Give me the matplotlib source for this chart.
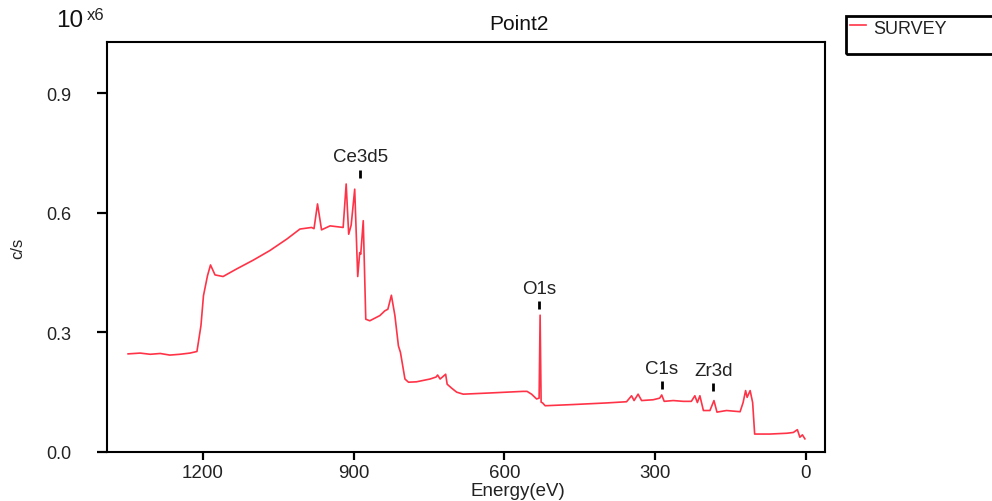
import matplotlib
matplotlib.use("Agg")
import matplotlib.pyplot as plt
from matplotlib.patches import Rectangle
from matplotlib.lines import Line2D

plt.rcParams['font.family'] = ['Liberation Sans', 'DejaVu Sans']

# Binding energy (eV) and intensity (c/s, in units of 1e6)
energy = [1349, 1325, 1305, 1285, 1266, 1246, 1226, 1212, 1204, 1199, 1191, 1185,
          1176, 1160, 1133, 1100, 1067, 1033, 1007, 984, 979, 972, 964, 947,
          921, 915, 910, 905, 898, 892, 888, 886, 881, 876, 868, 848, 838, 832,
          825, 818, 811, 807, 798, 791, 775, 748, 736, 733, 728, 717, 714, 705,
          695, 682, 629, 563, 555, 546, 536, 531, 529, 527, 524, 519, 463, 397,
          357, 347, 342, 334, 327, 304, 291, 287, 282, 264, 244, 228, 221, 216,
          211, 204, 191, 183, 177, 158, 131, 125, 120, 117, 111, 106, 102, 72,
          38, 25, 17, 12, 7, 2]
intensity = [0.246, 0.248, 0.245, 0.247, 0.243, 0.245, 0.248, 0.252, 0.317, 0.392,
             0.442, 0.469, 0.444, 0.440, 0.459, 0.481, 0.505, 0.534, 0.559, 0.563,
             0.560, 0.622, 0.557, 0.567, 0.563, 0.672, 0.546, 0.569, 0.659, 0.440,
             0.500, 0.496, 0.580, 0.333, 0.329, 0.342, 0.354, 0.358, 0.393, 0.342,
             0.266, 0.250, 0.183, 0.175, 0.176, 0.183, 0.188, 0.193, 0.183, 0.195,
             0.170, 0.160, 0.150, 0.145, 0.148, 0.152, 0.152, 0.145, 0.133, 0.135,
             0.343, 0.125, 0.123, 0.116, 0.119, 0.123, 0.126, 0.141, 0.129, 0.145,
             0.129, 0.131, 0.135, 0.143, 0.127, 0.129, 0.127, 0.127, 0.141, 0.124,
             0.141, 0.104, 0.104, 0.129, 0.100, 0.104, 0.101, 0.124, 0.154, 0.137,
             0.154, 0.124, 0.045, 0.045, 0.047, 0.049, 0.056, 0.037, 0.043, 0.033]

peak_labels = ["Ce3d5", "O1s", "C1s", "Zr3d"]
peak_energies = [887, 531, 287, 184]
label_heights = [0.708, 0.378, 0.178, 0.173]

x_ticks = [1200, 900, 600, 300, 0]
y_ticks = [0.0, 0.3, 0.6, 0.9]

fig = plt.figure(figsize=(9.92, 5.02), dpi=100)
ax = fig.add_axes([107/992, 1-453/502, (825-107)/992, (453-43)/502])

ax.plot(energy, intensity, color='#ff3347', lw=1.2, label='SURVEY')
ax.set_xlim(1391, -38)
ax.set_ylim(0, 1.028)

ax.set_xticks(x_ticks)
ax.set_xticklabels([str(v) for v in x_ticks])
ax.set_yticks(y_ticks)
ax.set_yticklabels(["%.1f" % v for v in y_ticks])

for s in ax.spines.values():
    s.set_linewidth(1.5)
ax.tick_params(axis='y', length=7, width=1.6, pad=19, labelsize=13, colors='black')
ax.tick_params(axis='x', length=6, width=1.6, pad=3, labelsize=13.5)
for t in ax.get_xticklabels() + ax.get_yticklabels():
    t.set_color('#222222')

# peak markers
for lab, e, h in zip(peak_labels, peak_energies, label_heights):
    ax.plot([e, e], [h - 0.02, h], color='black', lw=2, solid_capstyle='butt')
    ax.text(e, h + 0.011, lab, ha='center', va='bottom', fontsize=13.5, color='#222222')

fig.text(519/992, 1-25/502, "Point2", ha='center', va='center', fontsize=15, color='#111111')
fig.text(518/992, 1-492/502, "Energy(eV)", ha='center', va='center', fontsize=13.5, color='#222222')
fig.text(18/992, 1-248/502, "c/s", rotation=90, ha='center', va='center', fontsize=12, color='#222222')
fig.text(56/992, 1-21/502, "10", ha='left', va='center', fontsize=17.5, color='#111111')
fig.text(87/992, 1-16/502, "x6", ha='left', va='center', fontsize=12, color='#222222')

# legend box
fig.patches.append(Rectangle((846/992, 1-55/502), 200/992, 38/502, transform=fig.transFigure,
                             fill=False, edgecolor='black', lw=2, clip_on=False))
fig.lines.append(Line2D([850/992, 866/992], [1-26/502, 1-26/502], transform=fig.transFigure,
                        color='#ff3347', lw=1.2))
fig.text(873/992, 1-30/502, "SURVEY", ha='left', va='center', fontsize=13, color='#222222')

fig.savefig("out.png", dpi=100)
